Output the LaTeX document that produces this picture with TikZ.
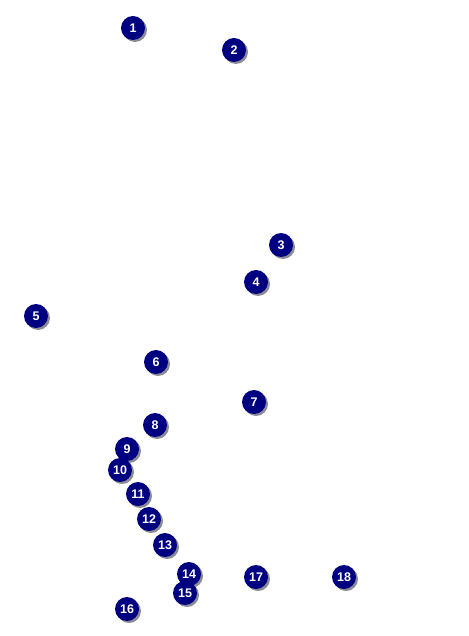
\documentclass[tikz,border=0pt]{standalone}
\usepackage{fontspec}
\setmainfont{Liberation Sans}
\definecolor{navyc}{RGB}{0,0,128}
\definecolor{shadc}{RGB}{140,140,150}
\usetikzlibrary{shadows}
\tikzset{
  badge/.style={circle, fill=navyc, minimum size=24pt, inner sep=0pt,
    text=white, font=\fontsize{12.5}{12.5}\selectfont\bfseries,
    drop shadow={shadow xshift=2pt, shadow yshift=-2pt, fill=shadc, opacity=1}}
}
\begin{document}
\begin{tikzpicture}[x=1pt,y=-1pt]
\useasboundingbox (0,0) rectangle (468,636);
\begin{scope}[shift={(1,1)}]
\node[badge] (n1) at (132,27) {1};
\node[badge] (n2) at (233,49) {2};
\node[badge] (n3) at (280,244) {3};
\node[badge] (n4) at (255,281) {4};
\node[badge] (n5) at (35,315) {5};
\node[badge] (n6) at (155,361) {6};
\node[badge] (n7) at (253,401) {7};
\node[badge] (n8) at (154,424) {8};
\node[badge] (n9) at (126,448) {9};
\node[badge] (n10) at (119,469) {10};
\node[badge] (n11) at (137,493) {11};
\node[badge] (n12) at (148,518) {12};
\node[badge] (n13) at (164,544) {13};
\node[badge] (n14) at (188,573) {14};
\node[badge] (n15) at (184,592) {15};
\node[badge] (n16) at (126,608) {16};
\node[badge] (n17) at (255,576) {17};
\node[badge] (n18) at (343,576) {18};
\end{scope}
\end{tikzpicture}
\end{document}
